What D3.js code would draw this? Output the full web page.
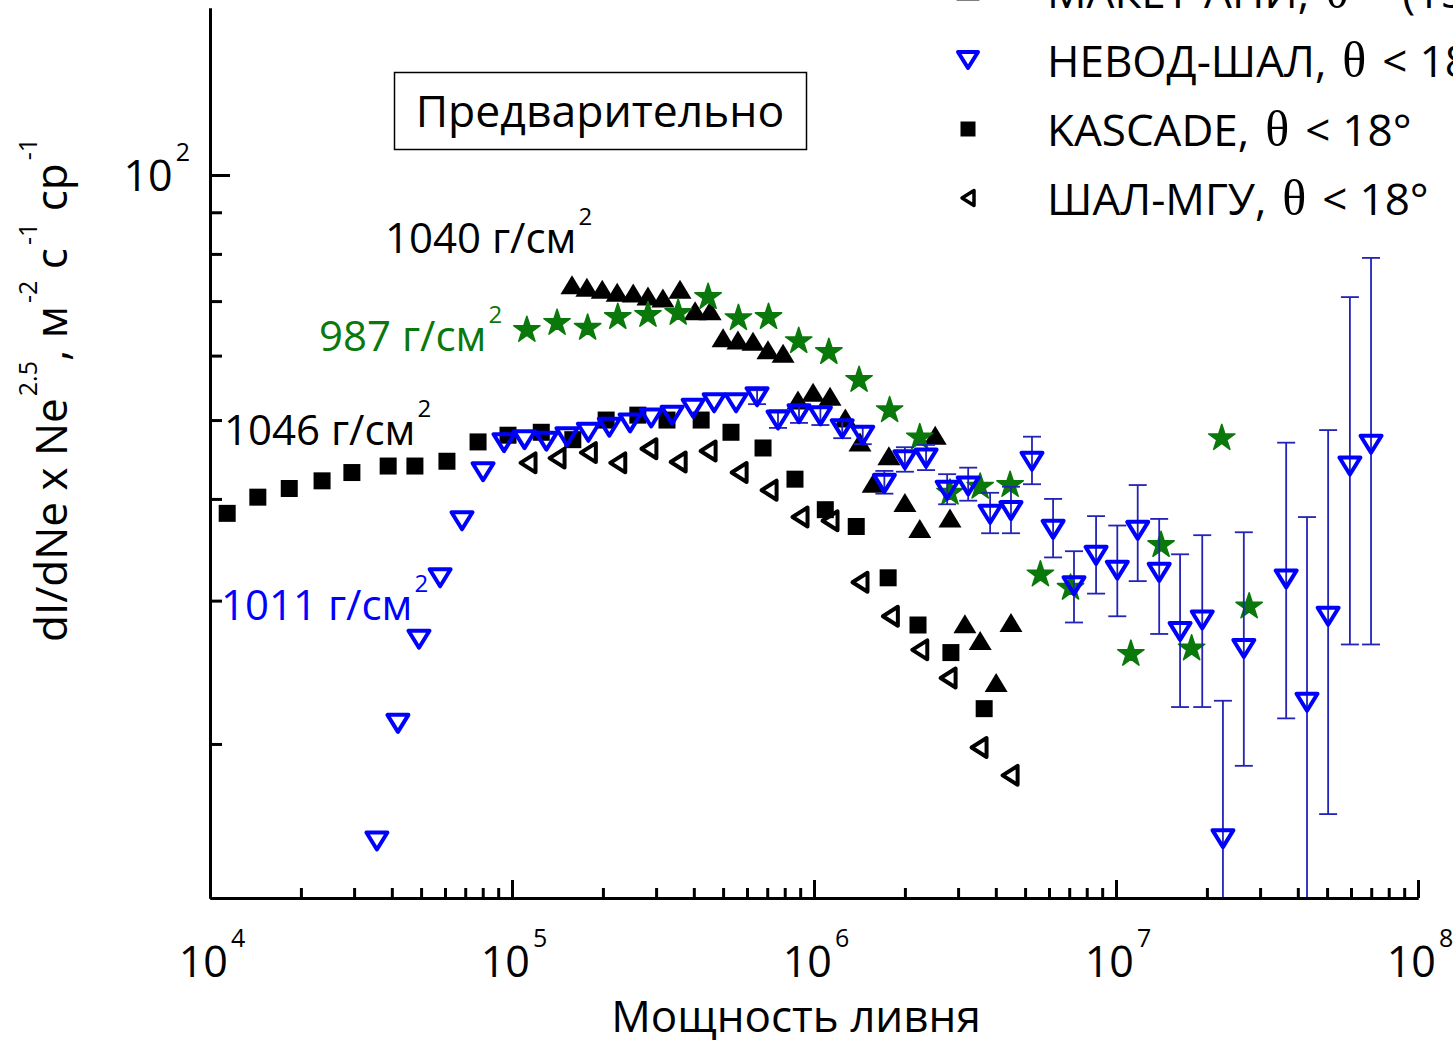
<!DOCTYPE html>
<html>
<head>
<meta charset="utf-8">
<script src="https://cdn.jsdelivr.net/npm/d3@7"></script>
<style>
  html, body { margin: 0; padding: 0; background: #fff; }
  svg { display: block; }
</style>
</head>
<body>
<svg id="chart" width="1453" height="1044"></svg>
<script>
// ---------------- data ----------------
// Axis extents
const xDomain = [1e4, 1e8];
const yDomain = [12.935, 160.4];
const xMajorExp = [4, 5, 6, 7, 8];
const yMajor = [100];
const yMinor = [20, 30, 40, 50, 60, 70, 80, 90];
const yMajorExp = [2];

// МАКЕТ-АНИ (1040 г/см²)
const aniNe = [1.58e5, 1.77e5, 1.99e5, 2.23e5, 2.52e5, 2.82e5, 3.16e5, 3.60e5, 4.04e5, 4.53e5,
               5.00e5, 5.60e5, 6.28e5, 7.04e5, 7.90e5, 8.85e5, 9.93e5, 1.13e6, 1.27e6, 1.42e6,
               1.57e6, 1.77e6, 2.00e6, 2.24e6, 2.52e6, 2.82e6, 3.16e6, 3.55e6, 4.01e6, 4.49e6];
const aniI  = [73.3, 72.8, 72.4, 71.8, 71.6, 71.0, 70.6, 72.4, 68.1, 68.1,
               63.1, 62.7, 62.5, 61.0, 60.4, 52.9, 54.1, 53.5, 50.3, 47.0,
               41.8, 45.2, 39.6, 36.8, 47.9, 37.9, 28.1, 26.8, 23.8, 28.2];

// 987 г/см² (green stars)
const tsNe = [1.12e5, 1.41e5, 1.78e5, 2.24e5, 2.82e5, 3.55e5, 4.46e5, 5.62e5, 7.07e5, 8.90e5,
              1.12e6, 1.41e6, 1.78e6, 2.24e6, 2.82e6, 3.55e6, 4.46e6, 5.62e6, 7.07e6, 1.12e7,
              1.41e7, 1.78e7, 2.24e7, 2.76e7];
const tsI  = [64.5, 65.8, 64.9, 66.9, 67.3, 67.7, 70.8, 66.7, 66.9, 62.5,
              60.6, 56.0, 51.4, 47.6, 40.7, 41.4, 41.6, 32.3, 31.1, 25.8,
              35.1, 26.2, 47.5, 29.5];

// НЕВОД-ШАЛ (1011 г/см²)
const nevodNe = [3.57e4, 4.19e4, 4.92e4, 5.78e4, 6.83e4, 8.02e4, 9.41e4, 1.10e5, 1.30e5, 1.52e5,
                 1.79e5, 2.10e5, 2.46e5, 2.89e5, 3.39e5, 3.98e5, 4.67e5, 5.52e5, 6.48e5, 7.60e5,
                 8.92e5, 1.05e6, 1.24e6, 1.45e6, 1.71e6, 2.00e6, 2.35e6, 2.76e6, 3.24e6, 3.83e6,
                 4.49e6, 5.27e6, 6.19e6, 7.26e6, 8.59e6, 1.01e7, 1.18e7, 1.39e7, 1.63e7, 1.93e7,
                 2.26e7, 2.65e7, 3.66e7, 4.29e7, 5.04e7, 5.95e7, 6.99e7];
const nevodI  = [15.2, 21.2, 26.9, 32.0, 37.6, 43.2, 46.9, 47.3, 47.1, 47.7,
                 48.3, 49.0, 49.6, 50.3, 50.7, 51.7, 52.5, 52.5, 53.4, 50.0,
                 50.9, 50.6, 48.8, 47.9, 41.8, 44.7, 44.9, 41.0, 41.5, 38.3,
                 38.7, 44.5, 36.7, 31.3, 34.1, 32.7, 36.6, 32.5, 27.5, 28.4,
                 15.3, 26.2, 31.9, 22.5, 28.7, 43.9, 46.7];
const nevodLo = [null, null, null, null, null, null, null, null, null, null,
                 null, null, null, null, null, null, null, null, 52.3, 48.9,
                 49.6, 49.3, 47.5, 46.7, 40.6, 43.2, 43.4, 39.4, 39.8, 36.3,
                 36.3, 41.7, 33.9, 28.2, 30.6, 28.7, 31.7, 27.3, 22.2, 22.2,
                 10.4, 18.8, 21.5, 11.0, 16.4, 26.5, 26.5];
const nevodHi = [null, null, null, null, null, null, null, null, null, null,
                 null, null, null, null, null, null, null, null, 54.4, 51.4,
                 52.2, 51.9, 49.9, 49.0, 43.3, 46.3, 46.6, 42.9, 43.7, 40.7,
                 41.4, 47.7, 40.0, 34.5, 38.1, 37.1, 41.6, 37.8, 34.2, 36.1,
                 22.6, 36.4, 46.9, 38.0, 48.6, 70.8, 79.1];

// KASCADE (1046 г/см²)
const kascadeNe = [1.14e4, 1.44e4, 1.83e4, 2.35e4, 2.95e4, 3.89e4, 4.77e4, 6.09e4, 7.72e4, 9.70e4,
                   1.25e5, 1.59e5, 2.05e5, 2.61e5, 3.26e5, 4.23e5, 5.31e5, 6.78e5, 8.65e5, 1.09e6,
                   1.38e6, 1.76e6, 2.21e6, 2.84e6, 3.66e6];
const kascadeI  = [38.4, 40.2, 41.2, 42.1, 43.1, 43.9, 43.9, 44.5, 47.0, 47.9,
                   48.3, 47.3, 50.0, 50.7, 50.0, 50.0, 48.3, 46.2, 42.3, 38.8,
                   37.0, 32.0, 28.0, 25.9, 22.1];

// ШАЛ-МГУ
const msuNe = [1.13e5, 1.41e5, 1.79e5, 2.24e5, 2.84e5, 3.55e5, 4.46e5, 5.65e5, 7.10e5, 8.99e5,
               1.13e6, 1.42e6, 1.79e6, 2.24e6, 2.78e6, 3.52e6, 4.46e6];
const msuI  = [44.3, 44.9, 45.6, 44.3, 46.1, 44.4, 45.8, 43.1, 41.0, 38.0,
               37.6, 31.6, 28.7, 26.1, 24.1, 19.8, 18.3];

const legendLabels = ["МАКЕТ-АНИ,", "НЕВОД-ШАЛ,", "KASCADE,", "ШАЛ-МГУ,"];
const legendRel    = ["=", "<", "<", "<"];
const legendTails  = ["(15-25)°", "18°", "18°", "18°"];

// ---------------- drawing ----------------
const SANS = '"Open Sans", "Noto Sans", "DejaVu Sans", sans-serif';
const SERIF = '"Liberation Serif", "DejaVu Serif", serif';
const BLUE = "#0000ff";
const GREEN = "#0b780b";
const ERR = "#2323b8";

const svg = d3.select("#chart");
const x = d3.scaleLog().domain(xDomain).range([210, 1418]);
const y = d3.scaleLog().domain(yDomain).range([898, 8]);

const zip = (a, b) => a.map((v, i) => [v, b[i]]);

// marker outlines
const triUp = (w, h) => `M0,${-h / 2}L${w / 2},${h / 2}L${-w / 2},${h / 2}Z`;
const triDown = (w, h) => `M${-w / 2},${-h / 2}L${w / 2},${-h / 2}L0,${h / 2}Z`;
const triLeft = (w, h) => `M${-w / 2},0L${w / 2},${-h / 2}L${w / 2},${h / 2}Z`;
const square = s => `M${-s / 2},${-s / 2}h${s}v${s}h${-s}Z`;
const star = d3.symbol(d3.symbolStar, 215)();

// text with superscript parts
function rich(g, parts, opts) {
  const t = g.append("text")
    .attr("x", opts.x).attr("y", opts.y)
    .attr("font-family", SANS)
    .attr("font-size", opts.size)
    .attr("fill", opts.fill || "#000")
    .attr("text-anchor", opts.anchor || "start");
  let raised = 0;
  parts.forEach(p => {
    const ts = t.append("tspan").text(p.t);
    if (p.sup) {
      ts.attr("font-size", opts.supSize).attr("dy", -opts.raise - raised);
      if (p.dx) ts.attr("dx", p.dx);
      raised = -opts.raise;
    } else {
      ts.attr("dy", -raised);
      raised = 0;
    }
  });
  return t;
}

// clip for data marks
svg.append("defs").append("clipPath").attr("id", "plotClip")
  .append("rect").attr("x", 0).attr("y", 0).attr("width", 1453).attr("height", 898);

const plot = svg.append("g").attr("clip-path", "url(#plotClip)");

// KASCADE squares
plot.append("g").selectAll("path").data(zip(kascadeNe, kascadeI)).join("path")
  .attr("d", square(17))
  .attr("transform", d => `translate(${x(d[0])},${y(d[1])})`)
  .attr("fill", "#000");

// ШАЛ-МГУ open left triangles
plot.append("g").selectAll("path").data(zip(msuNe, msuI)).join("path")
  .attr("d", triLeft(15, 19))
  .attr("transform", d => `translate(${x(d[0])},${y(d[1])})`)
  .attr("fill", "none").attr("stroke", "#000").attr("stroke-width", 4)
  .attr("stroke-linejoin", "round");

// МАКЕТ-АНИ filled up triangles
plot.append("g").selectAll("path").data(zip(aniNe, aniI)).join("path")
  .attr("d", triUp(23, 19))
  .attr("transform", d => `translate(${x(d[0])},${y(d[1])})`)
  .attr("fill", "#000");

// 987 г/см² stars
plot.append("g").selectAll("path").data(zip(tsNe, tsI)).join("path")
  .attr("d", star)
  .attr("transform", d => `translate(${x(d[0])},${y(d[1])})`)
  .attr("fill", GREEN).attr("stroke", GREEN).attr("stroke-width", 1.5)
  .attr("stroke-linejoin", "round");

// НЕВОД-ШАЛ error bars
const errData = nevodNe.map((ne, i) => ({ ne, lo: nevodLo[i], hi: nevodHi[i] }))
  .filter(d => d.lo !== null);
const eg = plot.append("g").attr("stroke", ERR).attr("stroke-width", 1.8);
eg.selectAll("line.v").data(errData).join("line").attr("class", "v")
  .attr("x1", d => x(d.ne)).attr("x2", d => x(d.ne))
  .attr("y1", d => y(d.lo)).attr("y2", d => y(d.hi));
eg.selectAll("line.lo").data(errData).join("line").attr("class", "lo")
  .attr("x1", d => x(d.ne) - 9).attr("x2", d => x(d.ne) + 9)
  .attr("y1", d => y(d.lo)).attr("y2", d => y(d.lo));
eg.selectAll("line.hi").data(errData).join("line").attr("class", "hi")
  .attr("x1", d => x(d.ne) - 9).attr("x2", d => x(d.ne) + 9)
  .attr("y1", d => y(d.hi)).attr("y2", d => y(d.hi));

// НЕВОД-ШАЛ open down triangles
plot.append("g").selectAll("path").data(zip(nevodNe, nevodI)).join("path")
  .attr("d", triDown(21, 17))
  .attr("transform", d => `translate(${x(d[0])},${y(d[1])})`)
  .attr("fill", "none").attr("stroke", BLUE).attr("stroke-width", 4)
  .attr("stroke-linejoin", "round");

// ---------------- axes ----------------
const xMinor = [];
xMajorExp.slice(0, -1).forEach(e => { for (let m = 2; m <= 9; m++) xMinor.push(m * Math.pow(10, e)); });
const xMajor = xMajorExp.map(e => Math.pow(10, e));

function styleAxis(g) {
  g.selectAll(".domain").attr("stroke", "#000").attr("stroke-width", 3);
  g.selectAll(".tick line").attr("stroke", "#000").attr("stroke-width", 3);
  g.selectAll(".tick text").remove();
}

svg.append("g").attr("transform", "translate(0,898)")
  .call(d3.axisBottom(x).tickValues(xMinor).tickSize(-10).tickSizeOuter(0).tickFormat(""))
  .call(styleAxis);
svg.append("g").attr("transform", "translate(0,898)")
  .call(d3.axisBottom(x).tickValues(xMajor).tickSize(-18).tickSizeOuter(0).tickFormat(""))
  .call(styleAxis);

svg.append("g").attr("transform", "translate(210,0)")
  .call(d3.axisLeft(y).tickValues(yMinor).tickSize(-12).tickSizeOuter(0).tickFormat(""))
  .call(styleAxis);
svg.append("g").attr("transform", "translate(210,0)")
  .call(d3.axisLeft(y).tickValues(yMajor).tickSize(-20).tickSizeOuter(0).tickFormat(""))
  .call(styleAxis);

// tick labels
const labels = svg.append("g");
xMajorExp.forEach(e => {
  rich(labels, [{ t: "10" }, { t: String(e), sup: true, dx: 3 }],
    { x: x(Math.pow(10, e)) + 2, y: 977, size: 43, supSize: 25, raise: 30, anchor: "middle" });
});
yMajorExp.forEach(e => {
  rich(labels, [{ t: "10" }, { t: String(e), sup: true, dx: 3 }],
    { x: 190, y: y(Math.pow(10, e)) + 16, size: 43, supSize: 25, raise: 30, anchor: "end" });
});

// axis titles
svg.append("text").attr("x", 796).attr("y", 1032)
  .attr("font-family", SANS).attr("font-size", 44).attr("text-anchor", "middle")
  .text("Мощность ливня");

const yt = svg.append("g").attr("transform", "translate(67,390) rotate(-90)");
rich(yt, [{ t: "dI/dNe x Ne" }, { t: "2.5", sup: true, dx: 2 }, { t: ", м" }, { t: "-2", sup: true, dx: 3 },
          { t: " с" }, { t: "-1", sup: true, dx: 3 }, { t: " ср" }, { t: "-1", sup: true, dx: 3 }],
  { x: 0, y: 0, size: 44, supSize: 25, raise: 30, anchor: "middle" });

// pressure annotations
const ann = svg.append("g");
const annOpts = { size: 42, supSize: 24, raise: 28 };
rich(ann, [{ t: "1040 г/см" }, { t: "2", sup: true, dx: 2 }], { ...annOpts, x: 385, y: 253 });
rich(ann, [{ t: "987 г/см" }, { t: "2", sup: true, dx: 2 }], { ...annOpts, x: 319, y: 351, fill: GREEN });
rich(ann, [{ t: "1046 г/см" }, { t: "2", sup: true, dx: 2 }], { ...annOpts, x: 224, y: 445 });
rich(ann, [{ t: "1011 г/см" }, { t: "2", sup: true, dx: 2 }], { ...annOpts, x: 221, y: 620, fill: BLUE });

// preliminary-result box
svg.append("rect").attr("x", 394.5).attr("y", 72.5).attr("width", 412).attr("height", 77)
  .attr("fill", "#fff").attr("stroke", "#000").attr("stroke-width", 1.5);
svg.append("text").attr("x", 600).attr("y", 127)
  .attr("font-family", SANS).attr("font-size", 44.5).attr("text-anchor", "middle")
  .text("Предварительно");

// ---------------- legend ----------------
const legendMarks = [
  g => g.append("path").attr("d", triUp(23, 19)).attr("fill", "#000"),
  g => g.append("path").attr("d", triDown(20, 16)).attr("fill", "none").attr("stroke", BLUE)
         .attr("stroke-width", 4).attr("stroke-linejoin", "round"),
  g => g.append("path").attr("d", square(15)).attr("fill", "#000"),
  g => g.append("path").attr("d", triLeft(12, 15)).attr("fill", "none").attr("stroke", "#000")
         .attr("stroke-width", 3.5).attr("stroke-linejoin", "round")
];
const legend = svg.append("g");
legendLabels.forEach((lab, i) => {
  const cy = -9 + i * 69;
  legendMarks[i](legend.append("g").attr("transform", `translate(968,${cy})`));
  const t = legend.append("text").attr("x", 1047).attr("y", cy + 17)
    .attr("font-family", SANS).attr("font-size", 44);
  t.append("tspan").text(lab);
  t.append("tspan").attr("dx", 16).attr("font-family", SERIF).attr("font-size", 50).text("θ");
  t.append("tspan").attr("dx", 16).text(legendRel[i]);
  t.append("tspan").attr("dx", 12).text(legendTails[i]);
});
</script>
</body>
</html>
